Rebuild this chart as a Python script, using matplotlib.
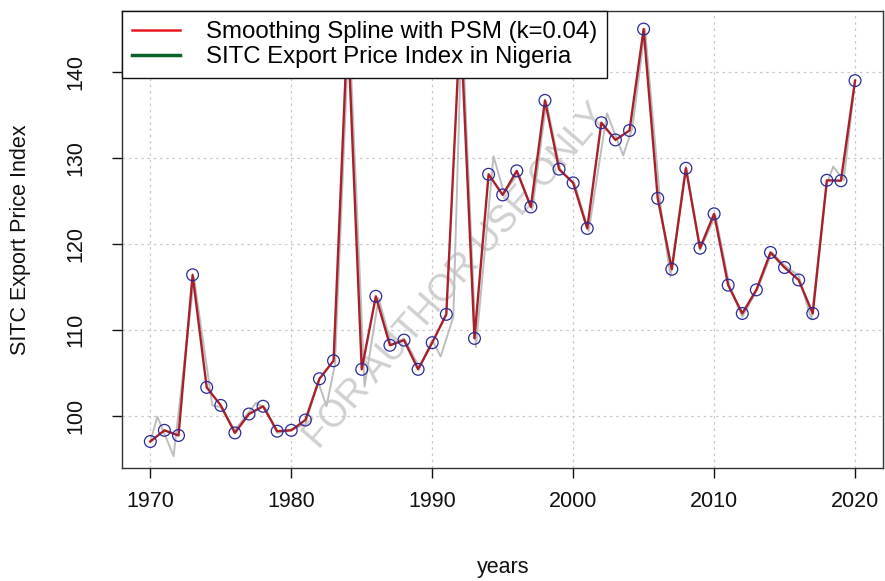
import numpy as np
import matplotlib
matplotlib.use("Agg")
import matplotlib.pyplot as plt
from matplotlib.lines import Line2D

plt.rcParams['font.family'] = ['Liberation Sans', 'DejaVu Sans']

# fitted spline values (red line, circles), one per year
years = list(range(1970, 2021))
fitted = [97.0, 98.3, 97.7, 116.4, 103.3, 101.2, 98.0, 100.2, 101.1, 98.2,
          98.3, 99.5, 104.3, 106.4, 145.5, 105.4, 113.9, 108.2, 108.8, 105.4,
          108.5, 111.8, 146.0, 109.0, 128.1, 125.7, 128.5, 124.3, 136.7, 128.7,
          127.1, 121.8, 134.1, 132.1, 133.2, 145.0, 125.3, 117.05, 128.8, 119.5,
          123.5, 115.2, 111.9, 114.65, 119.0, 117.25, 115.8, 111.9, 127.4, 127.35,
          139.0]

# raw index (grey line)
raw_x = [1970.0, 1970.5, 1971.65, 1973.1, 1974.4, 1975.0, 1976.0, 1977.5, 1978.2,
         1979.0, 1980.0, 1981.0, 1981.9, 1982.5, 1983.1, 1984.1, 1985.2, 1986.2,
         1987.1, 1988.0, 1989.1, 1990.0, 1990.6, 1991.5, 1992.1, 1993.1, 1994.35,
         1995.1, 1996.1, 1997.1, 1998.1, 1999.1, 2000.1, 2001.1, 2002.4, 2003.55,
         2004.2, 2005.1, 2006.2, 2006.9, 2008.0, 2009.0, 2010.1, 2011.1, 2012.0,
         2013.1, 2014.1, 2015.0, 2016.0, 2016.9, 2018.0, 2018.45, 2019.2, 2020.0]
raw_y = [97.0, 99.9, 95.3, 116.0, 101.2, 101.0, 98.3, 101.5, 100.8,
         98.0, 98.4, 99.0, 104.0, 101.1, 106.0, 145.5, 103.4, 113.7,
         108.2, 109.0, 105.6, 108.8, 106.9, 111.5, 146.0, 108.0, 130.2,
         125.9, 128.2, 124.0, 136.5, 128.5, 127.0, 121.5, 135.2, 130.3,
         133.5, 145.0, 124.5, 116.2, 129.0, 119.3, 123.3, 115.0, 111.5,
         114.8, 119.0, 117.5, 116.3, 111.2, 127.0, 129.0, 127.4, 139.0]

xticks = [1970, 1980, 1990, 2000, 2010, 2020]
yticks = [100, 110, 120, 130, 140]

fig = plt.figure(figsize=(8.85, 5.81), dpi=100)
ax = fig.add_axes([0.138, 0.195, 0.860, 0.786])

ax.plot(raw_x, raw_y, color='#bdbdbd', lw=1.4, zorder=2)
ax.plot(years, fitted, color='#a8202a', lw=1.7, zorder=3)
ax.scatter(years, fitted, s=72, facecolors='none', edgecolors='#2a2a9a',
           linewidths=0.9, zorder=4)

ax.set_xlim(1968.0, 2022.0)
ax.set_ylim(93.95, 147.1)
ax.set_xticks(xticks)
ax.set_yticks(yticks)
ax.grid(True, color='#c8c8c8', linestyle=(0, (2, 3)), lw=0.9)
ax.set_axisbelow(True)
for s in ax.spines.values():
    s.set_linewidth(1.0)
    s.set_color('#333333')
ax.tick_params(axis='both', direction='out', length=7, width=1, labelsize=15.5,
               colors='#111111')
ax.tick_params(axis='x', pad=10)
ax.tick_params(axis='y', pad=19)
plt.setp(ax.get_yticklabels(), rotation=90, va='center')

ax.set_xlabel('years', fontsize=15.5, color='#111111')
ax.set_ylabel('SITC Export Price Index', fontsize=15.5, color='#111111')
ax.xaxis.set_label_coords(0.5, -0.219)
ax.yaxis.set_label_coords(-0.134, 0.5)
ax.xaxis.label.set_va('center')
ax.yaxis.label.set_va('center')

# watermark
ax.text(0.44, 0.42, 'FOR AUTHOR USE ONLY', transform=ax.transAxes,
        rotation=49, fontsize=27, color='#c4c4c4', alpha=0.8,
        ha='center', va='center', zorder=1)

handles = [Line2D([], [], color='#e8191f', lw=1.8),
           Line2D([], [], color='#0a6428', lw=2.5)]
leg = ax.legend(handles, ['Smoothing Spline with PSM (k=0.04)',
                          'SITC Export Price Index in Nigeria'],
                loc='upper left', bbox_to_anchor=(0, 1), borderaxespad=0,
                fontsize=17.3, fancybox=False, framealpha=1, edgecolor='#111111',
                handlelength=2.0, handletextpad=1.05, labelspacing=0.12,
                borderpad=0.42)
leg.get_frame().set_linewidth(1.0)
leg.set_zorder(10)

fig.savefig('out.png', dpi=100)
